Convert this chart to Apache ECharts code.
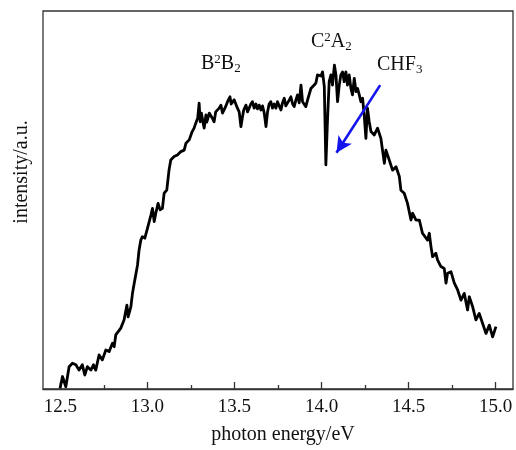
<!DOCTYPE html>
<html>
<head>
<meta charset="utf-8">
<script src="https://cdn.jsdelivr.net/npm/echarts@6/dist/echarts.min.js"></script>
<style>
html,body{margin:0;padding:0;background:#fff;}
#main{width:516px;height:450px;}
</style>
</head>
<body>
<div id="main"></div>
<script>
// photon energy (eV)
const energy = [
  12.498,12.512,12.531,12.550,12.569,12.589,12.607,12.626,12.640,12.655,
  12.675,12.690,12.703,12.722,12.741,12.761,12.780,12.799,12.809,12.818,
  12.847,12.866,12.882,12.889,12.905,12.914,12.924,12.933,12.943,12.952,
  12.962,12.971,12.985,13.000,13.010,13.020,13.029,13.039,13.048,13.061,
  13.073,13.086,13.096,13.111,13.124,13.134,13.153,13.172,13.192,13.211,
  13.221,13.240,
  13.257,13.268,13.278,13.289,13.297,13.303,13.310,13.316,13.321,13.326,
  13.336,13.340,13.345,13.355,13.364,13.372,13.383,13.392,13.402,13.412,
  13.422,13.431,13.441,13.451,13.460,13.474,13.481,13.489,13.498,13.508,
  13.517,13.527,13.537,13.546,13.553,13.566,13.575,13.584,13.594,13.603,
  13.613,13.623,13.632,13.642,13.652,13.661,13.671,13.681,13.690,13.699,
  13.709,13.718,13.728,13.738,13.747,13.757,13.767,13.776,13.786,13.795,
  13.805,13.815,13.824,13.834,13.843,13.853,13.862,13.872,13.882,13.891,
  13.901,13.910,13.920,13.929,13.939,13.948,13.958,13.968,13.977,13.987,
  13.997,14.006,14.016,
  14.025,14.034,14.044,
  14.054,14.063,14.074,14.083,14.092,14.102,14.111,14.121,14.130,14.140,
  14.149,14.159,14.169,14.178,14.188,14.198,14.207,14.217,14.226,14.236,
  14.245,14.255,14.264,14.274,14.284,14.303,14.322,14.341,14.351,14.361,
  14.370,14.389,14.408,14.428,14.437,14.447,14.456,14.475,14.494,14.514,
  14.523,14.543,14.562,14.580,14.609,14.619,14.629,14.638,14.657,14.667,
  14.686,14.705,14.715,14.724,14.744,14.763,14.782,14.801,14.820,14.839,
  14.849,14.868,14.887,14.906,14.925,14.945,14.964,14.983,15.002
];
// intensity (a.u.)
const intensity = [
  0.2,3.3,0.6,5.9,6.8,6.4,5.0,6.4,3.7,5.9,
  5.0,6.4,5.0,9.0,7.7,10.3,9.9,12.1,11.2,14.3,
  16.1,18.3,22.2,19.1,21.8,25.3,28.0,30.2,32.8,36.8,
  39.4,40.3,39.9,42.5,42.1,46.0,47.8,44.3,46.5,49.1,
  47.4,47.8,51.8,52.6,57.9,60.6,61.5,61.9,62.8,63.2,
  65.0,65.9,
  68.1,69.0,70.4,71.7,75.6,70.7,73.0,73.3,70.1,69.0,
  72.5,70.6,71.2,73.0,73.3,71.7,70.7,73.3,72.9,74.3,
  75.1,73.0,73.3,74.9,76.0,77.3,75.4,75.1,76.5,76.0,
  74.3,73.3,69.4,72.0,73.8,75.1,73.3,73.8,75.4,76.0,
  74.3,75.4,74.1,75.1,73.8,74.9,73.0,69.4,73.3,75.4,
  76.0,74.3,75.4,74.3,76.0,74.9,73.8,75.7,76.9,74.9,
  75.1,76.5,77.3,75.4,74.7,76.5,77.8,75.7,80.4,76.0,
  76.5,74.7,76.5,76.0,79.5,79.1,80.4,81.0,83.1,83.5,
  82.8,83.9,80.0,
  59.3,70.7,81.3,
  83.1,80.4,85.7,83.1,76.0,80.4,83.1,83.9,81.3,83.9,
  80.4,83.1,79.5,77.8,82.2,78.7,79.5,77.8,76.0,76.9,
  72.5,66.3,74.3,70.7,68.1,67.2,69.0,66.3,65.9,59.7,
  63.2,60.6,57.9,58.8,59.3,56.2,52.6,51.8,49.1,44.7,
  46.5,44.7,44.7,41.2,39.4,41.2,37.6,35.0,35.9,34.1,
  32.4,31.9,28.0,30.6,31.0,28.0,26.2,23.5,25.3,20.9,
  24.4,21.8,18.3,20.0,17.4,14.7,16.9,13.8,16.5
];
const majorTicks = [12.5, 13.0, 13.5, 14.0, 14.5, 15.0];
const minorTicks = [12.75, 13.25, 13.75, 14.25, 14.75];
const arrowStart = [14.337, 80.4];
const arrowEnd = [14.086, 62.5];

const FONT = "'Liberation Serif', 'Times New Roman', serif";
const data = [];
for (let i = 0; i < Math.min(energy.length, intensity.length); i++) data.push([energy[i], intensity[i]]);

const rich = {
  n: {fontFamily: FONT, fontSize: 20, color: '#111', lineHeight: 22},
  sup: {fontFamily: FONT, fontSize: 13, color: '#111', verticalAlign: 'top', lineHeight: 14},
  sub: {fontFamily: FONT, fontSize: 13, color: '#111', verticalAlign: 'bottom', lineHeight: 14}
};
function lbl(x, y, txt) {
  return {type: 'text', left: x, top: y, style: {text: txt, rich: rich, fontFamily: FONT, fontSize: 20, fill: '#111'}};
}

const chart = echarts.init(document.getElementById('main'));
chart.setOption({
  animation: false,
  backgroundColor: '#fff',
  grid: {left: 43, right: 3, top: 11, bottom: 61, show: true, borderColor: '#333', borderWidth: 1.3, containLabel: false, outerBoundsMode: 'none'},
  xAxis: [{
    type: 'value', min: 12.4, max: 15.1,
    name: 'photon energy/eV', nameLocation: 'middle', nameGap: 36,
    nameTextStyle: {fontFamily: FONT, fontSize: 20, color: '#111', padding: [0, 0, 0, 10]},
    axisLine: {show: true, lineStyle: {color: '#333', width: 1.3}},
    axisTick: {show: true, inside: true, length: 7, customValues: majorTicks, lineStyle: {color: '#333', width: 1.3}},
    axisLabel: {show: true, customValues: majorTicks, margin: 9, fontFamily: FONT, fontSize: 19, color: '#111',
      formatter: v => v.toFixed(1)},
    splitLine: {show: false}
  }, {
    type: 'value', min: 12.4, max: 15.1, position: 'bottom', gridIndex: 0,
    axisLine: {show: false},
    axisTick: {show: true, inside: true, length: 4, customValues: minorTicks, lineStyle: {color: '#333', width: 1.3}},
    axisLabel: {show: false},
    splitLine: {show: false}
  }],
  yAxis: {
    type: 'value', min: 0, max: 100,
    axisLine: {show: false}, axisTick: {show: false}, axisLabel: {show: false}, splitLine: {show: false}
  },
  graphic: [
    {type: 'text', x: 22, y: 172, rotation: Math.PI / 2,
      style: {text: 'intensity/a.u.', fontFamily: FONT, fontSize: 20, fill: '#111', align: 'center', verticalAlign: 'middle'}},
    lbl(201, 53, '{n|B}{sup|2}{n|B}{sub|2}'),
    lbl(311, 31, '{n|C}{sup|2}{n|A}{sub|2}'),
    lbl(377, 55, '{n|CHF}{sub|3}')
  ],
  series: [{
    type: 'line', data: data, xAxisIndex: 0,
    showSymbol: false, symbol: 'none',
    lineStyle: {color: '#000', width: 2.8, join: 'round'},
    z: 3,
    markLine: {
      silent: true, symbol: ['none', 'arrow'], symbolSize: [12, 16],
      label: {show: false},
      lineStyle: {color: '#1414ee', width: 2.6, type: 'solid'},
      data: [[{coord: arrowStart}, {coord: arrowEnd}]]
    }
  }]
});
</script>
</body>
</html>
